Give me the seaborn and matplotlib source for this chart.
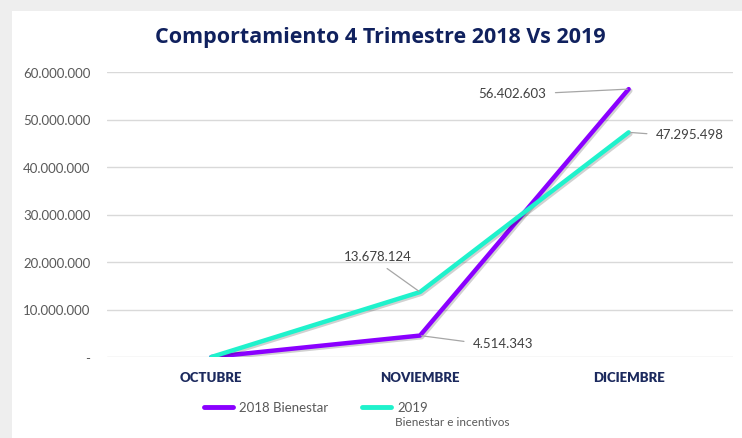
import numpy as np
import pandas as pd
import matplotlib.pyplot as plt
import matplotlib.patheffects as pe
from matplotlib.patches import Rectangle
from matplotlib.ticker import FuncFormatter
import seaborn as sns

months = ["OCTUBRE", "NOVIEMBRE", "DICIEMBRE"]
series_names = ["2018 Bienestar", "2019"]
values_2018 = [0, 4514343, 56402603]
values_2019 = [0, 13678124, 47295498]
colors = ["#8a00ff", "#1ff2cc"]

df = pd.DataFrame({
    "Mes": months * 2,
    "Valor": values_2018 + values_2019,
    "Serie": [series_names[0]] * 3 + [series_names[1]] * 3,
})

def miles(v, pos=None):
    if v == 0:
        return "-"
    return f"{int(round(v)):,}".replace(",", ".")

sns.set_theme(style="white")
plt.rcParams["font.family"] = ["Lato", "DejaVu Sans"]

fig = plt.figure(figsize=(7.42, 4.39), dpi=100)
fig.patch.set_facecolor("#eeeeee")
fig.add_artist(Rectangle((12 / 742, 0), 1, 1 - 12 / 439, transform=fig.transFigure,
                         facecolor="white", edgecolor="none", zorder=0))
ax = fig.add_axes([107 / 742, 1 - 358 / 439, 626 / 742, 285 / 439])
ax.set_facecolor("none")

sns.lineplot(data=df, x="Mes", y="Valor", hue="Serie", palette=colors,
             linewidth=3.2, sort=False, ax=ax,
             path_effects=[pe.SimpleLineShadow(offset=(1.2, -1.2), alpha=0.2), pe.Normal()])

ax.set_xlim(-0.5, 2.5)
ax.set_ylim(0, 60000000)
ax.set_yticks(np.arange(0, 60000001, 10000000))
ax.yaxis.set_major_formatter(FuncFormatter(miles))
ax.grid(axis="y", color="#d9d9d9", linewidth=1)
ax.set_axisbelow(True)
for s in ax.spines.values():
    s.set_visible(False)
ax.tick_params(axis="y", length=0, pad=12, labelsize=9.5, labelcolor="#595959")
ax.tick_params(axis="x", length=0, pad=10, labelsize=9.5, labelcolor="#1c2a5e")
for t in ax.get_xticklabels():
    t.set_fontweight("heavy")
ax.set_xlabel("")
ax.set_ylabel("")

fig.text(380 / 742, 1 - 38 / 439, "Comportamiento 4 Trimestre 2018 Vs 2019",
         ha="center", va="center", fontsize=15.5, fontweight="bold",
         color="#10215e", family=["Open Sans", "DejaVu Sans"])

# data labels with leader lines (offsets in pixels)
labels = [
    (2, values_2018[2], (-116, -4), (1, 0.5)),
    (2, values_2019[2], (61, -2), (0, 0.5)),
    (1, values_2019[1], (-42, 36), (0.5, 0)),
    (1, values_2018[1], (83, -7), (0, 0.5)),
]
for xi, yv, off, rp in labels:
    ax.annotate(miles(yv), xy=(xi, yv), xytext=off, textcoords="offset pixels",
                ha="center", va="center", fontsize=9.5, color="#404040",
                arrowprops=dict(arrowstyle="-", color="#a6a6a6", lw=0.9,
                                relpos=rp, shrinkA=4, shrinkB=1))

leg = ax.legend(loc="upper left", bbox_to_anchor=(97 / 626, -0.155), ncol=2,
                frameon=False, fontsize=9.5, handlelength=2.2, columnspacing=2.6,
                handletextpad=0.45, borderaxespad=0, borderpad=0)
for h in leg.get_lines():
    h.set_linewidth(3.5)
    h.set_path_effects([])
for t in leg.get_texts():
    t.set_color("#595959")

fig.text(395 / 742, 1 - 423 / 439, "Bienestar e incentivos", ha="left", va="center",
         fontsize=8.5, color="#595959")

fig.savefig("out.png", dpi=100)
